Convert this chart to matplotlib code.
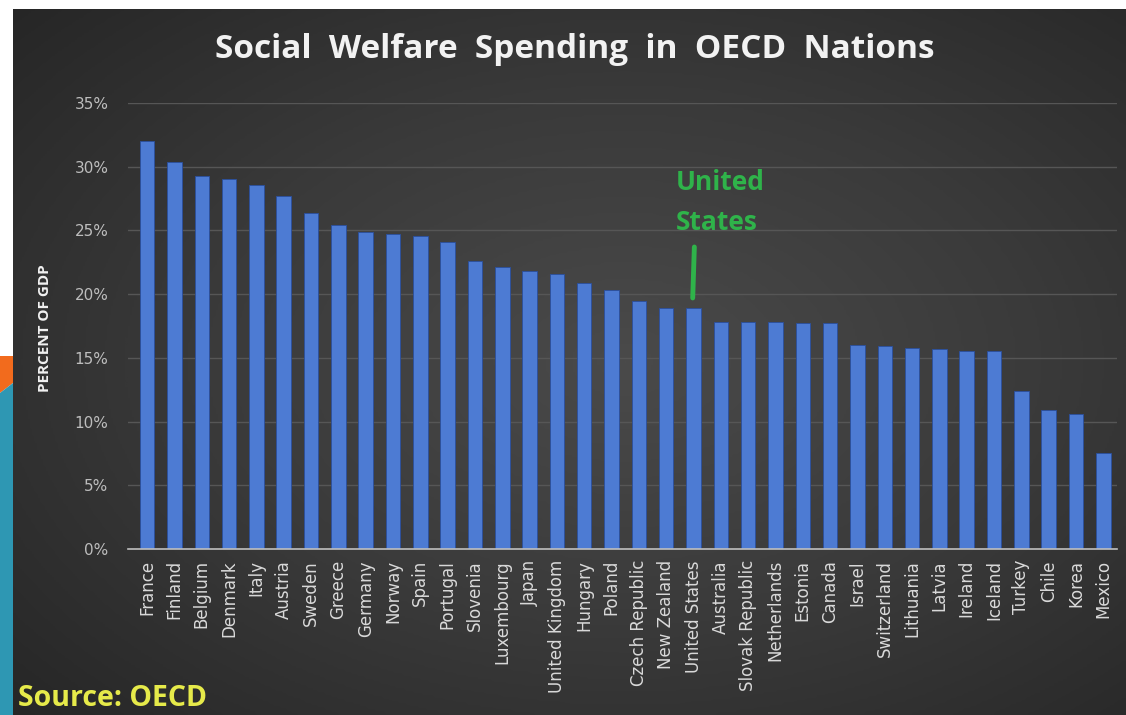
import numpy as np
import matplotlib.pyplot as plt
from matplotlib.patches import Polygon
from matplotlib.colors import LinearSegmentedColormap
from matplotlib.ticker import PercentFormatter

# social welfare spending, share of GDP
countries = ["France", "Finland", "Belgium", "Denmark", "Italy", "Austria", "Sweden",
             "Greece", "Germany", "Norway", "Spain", "Portugal", "Slovenia", "Luxembourg",
             "Japan", "United Kingdom", "Hungary", "Poland", "Czech Republic", "New Zealand",
             "United States", "Australia", "Slovak Republic", "Netherlands", "Estonia",
             "Canada", "Israel", "Switzerland", "Lithuania", "Latvia", "Ireland", "Iceland",
             "Turkey", "Chile", "Korea", "Mexico"]
spending = [32.0, 30.4, 29.3, 29.0, 28.6, 27.7, 26.4, 25.4, 24.9, 24.7, 24.6, 24.1,
            22.6, 22.1, 21.8, 21.6, 20.9, 20.3, 19.5, 18.9, 18.9, 17.8, 17.8, 17.8,
            17.7, 17.7, 16.0, 15.9, 15.8, 15.7, 15.5, 15.5, 12.4, 10.9, 10.6, 7.5]
yticks = [0, 5, 10, 15, 20, 25, 30, 35]

W, H = 1126, 715
fig = plt.figure(figsize=(W / 100, H / 100), dpi=100, facecolor="white")

# dark slide panel with a soft radial glow
bg = fig.add_axes([13 / W, 0, 1 - 13 / W, 1 - 9 / H])
bg.set_axis_off()
glow = LinearSegmentedColormap.from_list("glow", ["#4a4a4a", "#3a3a3a", "#262626"])
yy, xx = np.mgrid[0:1:300j, 0:1:500j]
r = np.sqrt(((xx - 0.55) / 0.75) ** 2 + ((yy - 0.5) / 0.75) ** 2)
bg.imshow(np.clip(r, 0, 1), cmap=glow, vmin=0, vmax=1, aspect="auto",
          extent=[0, 1, 0, 1], interpolation="bilinear")
bg.set_xlim(0, 1)
bg.set_ylim(0, 1)

# slide decoration on the left edge
def px(x, y):
    return (x / W, 1 - y / H)

fig.patches.append(Polygon([px(0, 356), px(13, 356), px(13, 383), px(0, 393)],
                           closed=True, transform=fig.transFigure,
                           facecolor="#f26b1d", edgecolor="none"))
fig.patches.append(Polygon([px(0, 393), px(13, 383), px(13, 715), px(0, 715)],
                           closed=True, transform=fig.transFigure,
                           facecolor="#2e97b3", edgecolor="none"))

ax = fig.add_axes([128 / W, 1 - 549 / H, (1117 - 128) / W, (549 - 103) / H])
ax.patch.set_alpha(0)
x = np.arange(len(countries))
ax.bar(x, spending, width=0.53, color="#4d7bd3", edgecolor="#2a4f9e",
       linewidth=0.6, zorder=3)

ax.set_ylim(0, 35)
ax.set_xlim(-0.7, len(countries) - 0.5)
ax.set_yticks(yticks)
ax.yaxis.set_major_formatter(PercentFormatter(decimals=0))
ax.grid(axis="y", color="#565656", linewidth=1.0, zorder=0)
for s in ["top", "right", "left"]:
    ax.spines[s].set_visible(False)
ax.spines["bottom"].set_color("#bfbfbf")
ax.spines["bottom"].set_linewidth(1.2)
ax.spines["bottom"].set_zorder(4)
ax.tick_params(axis="both", length=0, colors="#bdbdbd", labelsize=11)
ax.tick_params(axis="y", pad=14)
ax.tick_params(axis="x", pad=8)
ax.set_xticks(x)
ax.set_xticklabels(countries, rotation=90, color="#d9d9d9", fontsize=12)

fig.text(575 / W, 1 - 50 / H, "Social  Welfare  Spending  in  OECD  Nations",
         ha="center", va="center", color="#f2f2f2", fontsize=24,
         fontweight="bold", family="Open Sans")
fig.text(45 / W, 1 - 328 / H, "PERCENT OF GDP", rotation=90, ha="center",
         va="center", color="#f2f2f2", fontsize=11, fontweight="bold",
         family="Open Sans")

# call-out for the US bar
us = countries.index("United States")
ax.text(us - 0.65, 27.2, "United\nStates", ha="left", va="center",
        color="#2fb34a", fontsize=19, fontweight="bold", family="Open Sans",
        linespacing=1.6)
ax.plot([us + 0.03, us - 0.03], [23.7, 19.7], color="#2fb34a", linewidth=3.5,
        solid_capstyle="round", zorder=5)

fig.text(18 / W, 1 - 699 / H, "Source: OECD", ha="left", va="center",
         color="#e6ea4a", fontsize=20.5, fontweight="bold", family="Open Sans")

fig.savefig("out.png", dpi=100, facecolor=fig.get_facecolor())
